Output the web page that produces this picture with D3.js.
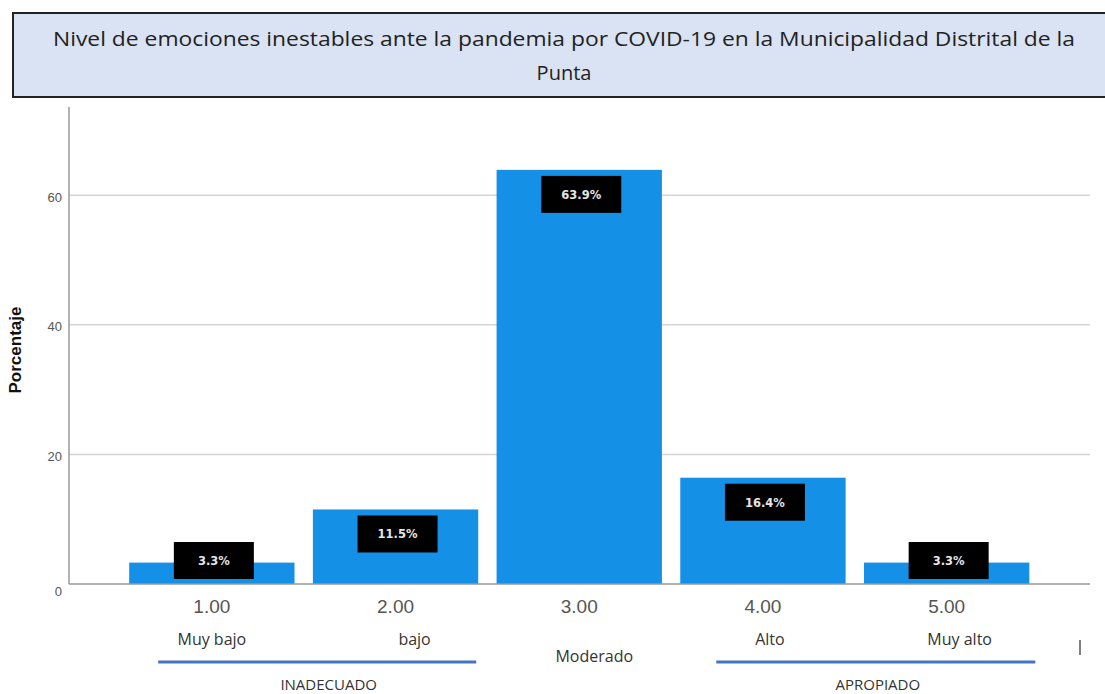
<!DOCTYPE html>
<html>
<head>
<meta charset="utf-8">
<script src="https://cdn.jsdelivr.net/npm/d3@7"></script>
<style>
  body { margin: 0; background: #fff; }
  svg { display: block; }
</style>
</head>
<body>
<div id="container"></div>
<script>
const WIDTH = 1105;
const HEIGHT = 694;

// data
const categories = ['1.00', '2.00', '3.00', '4.00', '5.00'];
const percentages = [3.3, 11.5, 63.9, 16.4, 3.3];
const levelNames = ['Muy bajo', 'bajo', 'Moderado', 'Alto', 'Muy alto'];
const yTicks = [0, 20, 40, 60];
const groupNames = ['INADECUADO', 'APROPIADO'];
const groupSpans = [['1.00', '2.00'], ['4.00', '5.00']];
const titleLines = [
  'Nivel de emociones inestables ante la pandemia por COVID-19 en la Municipalidad Distrital de la',
  'Punta'
];

// layout tweaks (the level names are not centred under the bars)
const levelDx = [0, 19, 15, 7, 13];
const levelY = [645, 645, 662, 645, 645];
const groupLineDx = [[29, -2], [36, 6]];
const groupTextDx = [25, 23];

const svg = d3.select('#container')
  .append('svg')
    .attr('width', WIDTH)
    .attr('height', HEIGHT);

const x = d3.scaleBand()
  .domain(categories)
  .range([120, 1038.5])
  .paddingInner(0.1)
  .paddingOuter(0.05);

const y = d3.scaleLinear()
  .domain([0, 73.6])
  .range([584, 107]);

// title box
svg.append('rect')
  .attr('x', 13).attr('y', 13)
  .attr('width', 1100).attr('height', 84)
  .attr('fill', '#dae3f3')
  .attr('stroke', '#222')
  .attr('stroke-width', 2);

svg.selectAll('.title')
  .data(titleLines)
  .enter()
  .append('text')
    .attr('class', 'title')
    .attr('x', 564)
    .attr('y', (d, i) => 46 + i * 34)
    .attr('text-anchor', 'middle')
    .attr('font-family', 'Open Sans, sans-serif')
    .attr('font-size', 20)
    .attr('fill', '#222')
    .attr('textLength', (d, i) => i === 0 ? 1022 : null)
    .attr('lengthAdjust', 'spacingAndGlyphs')
    .text(d => d);

// grid
svg.selectAll('.grid')
  .data(yTicks.filter(t => t > 0))
  .enter()
  .append('line')
    .attr('class', 'grid')
    .attr('x1', 69).attr('x2', 1090)
    .attr('y1', d => y(d)).attr('y2', d => y(d))
    .attr('stroke', '#d4d4d4')
    .attr('stroke-width', 1.5);

// y axis
const yAxis = svg.append('g')
  .attr('transform', 'translate(69,0)')
  .call(d3.axisLeft(y).tickValues(yTicks).tickSize(0).tickPadding(7));
yAxis.select('.domain').remove();
yAxis.selectAll('text')
  .attr('font-family', 'Arial, Liberation Sans, sans-serif')
  .attr('font-size', 13)
  .attr('fill', '#555')
  .attr('dy', d => d === 0 ? '0.9em' : '0.45em');

svg.append('line')
  .attr('x1', 69).attr('x2', 69)
  .attr('y1', 107).attr('y2', y(0))
  .attr('stroke', '#999')
  .attr('stroke-width', 1.5);

svg.append('text')
  .attr('transform', 'translate(21,350) rotate(-90)')
  .attr('text-anchor', 'middle')
  .attr('font-family', 'Arial, Liberation Sans, sans-serif')
  .attr('font-weight', 'bold')
  .attr('font-size', 17)
  .attr('fill', '#111')
  .text('Porcentaje');

// bars
svg.selectAll('.bar')
  .data(percentages)
  .enter()
  .append('rect')
    .attr('class', 'bar')
    .attr('x', (d, i) => x(categories[i]))
    .attr('y', d => y(d))
    .attr('width', x.bandwidth())
    .attr('height', d => y(0) - y(d))
    .attr('fill', '#1490e6');

// x axis line
svg.append('line')
  .attr('x1', 69).attr('x2', 1090)
  .attr('y1', y(0)).attr('y2', y(0))
  .attr('stroke', '#999')
  .attr('stroke-width', 1.5);

// value labels
const boxTop = d => Math.min(y(d) + 6, y(0) - 42);
const labels = svg.selectAll('.lbl')
  .data(percentages)
  .enter()
  .append('g')
    .attr('class', 'lbl')
    .attr('transform', (d, i) =>
      `translate(${x(categories[i]) + x.bandwidth() / 2 + 2}, ${boxTop(d)})`);

labels.append('rect')
  .attr('x', -40).attr('y', 0)
  .attr('width', 80).attr('height', 37)
  .attr('fill', '#000');

labels.append('text')
  .attr('y', 23)
  .attr('text-anchor', 'middle')
  .attr('font-family', 'DejaVu Sans, sans-serif')
  .attr('font-weight', 'bold')
  .attr('font-size', 11.5)
  .attr('fill', '#e6e6e6')
  .text(d => d3.format('.1f')(d) + '%');

// category tick labels
svg.selectAll('.cat')
  .data(categories)
  .enter()
  .append('text')
    .attr('class', 'cat')
    .attr('x', d => x(d) + x.bandwidth() / 2)
    .attr('y', 613)
    .attr('text-anchor', 'middle')
    .attr('font-family', 'Arial, Liberation Sans, sans-serif')
    .attr('font-size', 19)
    .attr('fill', '#555')
    .text(d => d);

// level names
svg.selectAll('.level')
  .data(levelNames)
  .enter()
  .append('text')
    .attr('class', 'level')
    .attr('x', (d, i) => x(categories[i]) + x.bandwidth() / 2 + levelDx[i])
    .attr('y', (d, i) => levelY[i])
    .attr('text-anchor', 'middle')
    .attr('font-family', 'Open Sans, sans-serif')
    .attr('font-size', 16)
    .attr('fill', '#333')
    .text(d => d);

// group brackets
const groups = svg.selectAll('.group')
  .data(groupNames)
  .enter()
  .append('g')
    .attr('class', 'group');

groups.append('line')
  .attr('x1', (d, i) => x(groupSpans[i][0]) + groupLineDx[i][0])
  .attr('x2', (d, i) => x(groupSpans[i][1]) + x.bandwidth() + groupLineDx[i][1])
  .attr('y1', 662).attr('y2', 662)
  .attr('stroke', '#4472c4')
  .attr('stroke-width', 3);

groups.append('text')
  .attr('x', (d, i) => (x(groupSpans[i][0]) + x(groupSpans[i][1]) + x.bandwidth()) / 2 + groupTextDx[i])
  .attr('y', 690)
  .attr('text-anchor', 'middle')
  .attr('font-family', 'Open Sans, sans-serif')
  .attr('font-size', 15)
  .attr('fill', '#333')
  .text(d => d);

svg.append('line')
  .attr('x1', 1080).attr('x2', 1080)
  .attr('y1', 640).attr('y2', 655)
  .attr('stroke', '#555')
  .attr('stroke-width', 1.5);
</script>
</body>
</html>
